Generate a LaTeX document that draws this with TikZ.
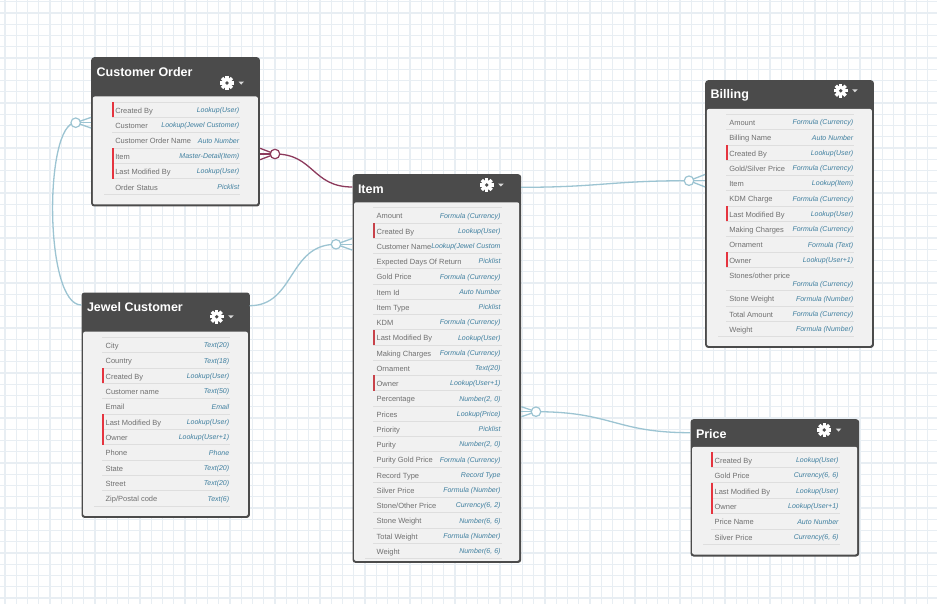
\documentclass[tikz,border=0pt]{standalone}
\usepackage{fontspec}
\setmainfont{Liberation Sans}
\usetikzlibrary{calc}
\definecolor{gridc}{HTML}{E8EEF3}
\definecolor{hdrc}{HTML}{4B4B4B}
\definecolor{innerc}{HTML}{F1F1F1}
\definecolor{rowline}{HTML}{DEDEDE}
\definecolor{namec}{HTML}{707070}
\definecolor{typec}{HTML}{3F7F9F}
\definecolor{bluec}{HTML}{9CC4D2}
\definecolor{maroonc}{HTML}{8C3A5C}
\definecolor{barc}{HTML}{E5343F}
\tikzset{
  outerbox/.style={fill=hdrc,rounded corners=3pt,inner sep=0pt,anchor=north west},
  titletext/.style={font=\fontsize{12.5}{13}\selectfont\bfseries,text=white,anchor=west,inner sep=0pt},
  fieldname/.style={font=\fontsize{7.5}{8}\selectfont,text=namec,anchor=base west,inner sep=0pt},
  fieldtype/.style={font=\fontsize{7}{8}\selectfont\itshape,text=typec,anchor=base east,inner sep=0pt},
  bluelink/.style={draw=bluec,line width=1.3pt},
  maroonlink/.style={draw=maroonc,line width=1.3pt},
  bluering/.style={circle,draw=bluec,fill=white,line width=1.2pt,minimum size=9.5pt,inner sep=0pt},
  maroonring/.style={circle,draw=maroonc,fill=white,line width=1.2pt,minimum size=9.5pt,inner sep=0pt},
}
\newcount\rowno
\newcommand\erbox[9]{% id,x,y,w,h,header height,title,gear dx,gear dy
  \node[outerbox,minimum width=#4pt,minimum height=#5pt] (#1) at (#2,#3) {};
  \fill[innerc,rounded corners=2pt] ({#2+1.8},{#3+#6}) rectangle ({#2+#4-1.8},{#3+#5-1.8});
  \node[titletext] (#1title) at ({#2+5.5},{#3+14.8}) {#7};
  \pgfmathsetmacro\gx{#2+#8}
  \pgfmathsetmacro\gy{#3+#9}
  \fill[white] (\gx,\gy) circle (5.2);
  \foreach \a in {0,45,...,315}
    \fill[white,shift={(\gx,\gy)},rotate=\a] (-1.7,-7) rectangle (1.7,0);
  \fill[hdrc] (\gx,\gy) circle (1.9);
  \fill[white!85!black] ({\gx+11.5},{\gy-1.4}) -- ({\gx+17},{\gy-1.4}) -- ({\gx+14.2},{\gy+1.6}) -- cycle;
  \edef\bx{#2}\edef\bw{#4}
}
\newcommand\rowsfrom[2]{% y of first line, row height
  \edef\ry{#1}\edef\rh{#2}
  \draw[rowline,line width=.7pt] ({\bx+21},\ry) -- ({\bx+\bw-19.5},\ry);
}
\newcommand\frow[3]{\frowgen{#1}{#2}{#3}{\rh}{3.5}{2.8}}
\newcommand\frowgen[6]{% name,type,flag,height,name base,type base
  \global\advance\rowno by 1
  \pgfmathsetmacro\rn{\ry+#4}
  \pgfmathsetmacro\rmid{\ry+(#4)/2}
  \draw[rowline,line width=.7pt] ({\bx+21},\rn) -- ({\bx+\bw-19.5},\rn);
  \ifnum#3=1 \fill[barc] ({\bx+20.8},\ry) rectangle ({\bx+23},\rn);\fi
  \node[fieldname] (fn\the\rowno) at ({\bx+24.1},{\rmid+#5}) {#1};
  \node[fieldtype] (ft\the\rowno) at ({\bx+\bw-20.3},{\rmid+#6}) {#2};
  \let\ry\rn
}
\newcommand\rowsend{\draw[rowline,line width=.7pt] ({\bx+13},\ry) -- ({\bx+21},\ry);}
\begin{document}
\begin{tikzpicture}[x=1pt,y=-1pt]
\useasboundingbox (0,0) rectangle (937,604);
\fill[white] (0,0) rectangle (937,604);
\foreach \k in {0,...,83} \draw[gridc,line width=1.2pt] ({5+11.25*\k},0) -- ({5+11.25*\k},604);
\foreach \k in {0,...,53} \draw[gridc,line width=1.2pt] (0,{1.7+11.25*\k}) -- (937,{1.7+11.25*\k});

% ---- Customer Order
\erbox{CO}{91}{57}{168.7}{149.3}{39.5}{Customer Order}{136}{26}
\rowsfrom{102}{15.37}
\frow{Created By}{Lookup(User)}{1}
\frow{Customer}{Lookup(Jewel Customer)}{0}
\frow{Customer Order Name}{Auto Number}{0}
\frow{Item}{Master-Detail(Item)}{1}
\frow{Last Modified By}{Lookup(User)}{1}
\frow{Order Status}{Picklist}{0}
\rowsend

% ---- Jewel Customer
\erbox{JC}{81.3}{292.3}{168.4}{225.4}{39.4}{Jewel Customer}{135.4}{24.4}
\rowsfrom{337.3}{15.33}
\frow{City}{Text(20)}{0}
\frow{Country}{Text(18)}{0}
\frow{Created By}{Lookup(User)}{1}
\frow{Customer name}{Text(50)}{0}
\frow{Email}{Email}{0}
\frow{Last Modified By}{Lookup(User)}{1}
\frow{Owner}{Lookup(User+1)}{1}
\frow{Phone}{Phone}{0}
\frow{State}{Text(20)}{0}
\frow{Street}{Text(20)}{0}
\frow{Zip/Postal code}{Text(6)}{0}
\rowsend

% ---- Item
\erbox{IT}{352.3}{174}{168.7}{388.7}{28.3}{Item}{134.4}{11}
\definecolor{barc}{HTML}{C8424A}
\rowsfrom{207.7}{15.25}
\frow{Amount}{Formula (Currency)}{0}
\frow{Created By}{Lookup(User)}{1}
\frow{Customer Name}{Lookup(Jewel Custom}{0}
\frow{Expected Days Of Return}{Picklist}{0}
\frow{Gold Price}{Formula (Currency)}{0}
\frow{Item Id}{Auto Number}{0}
\frow{Item Type}{Picklist}{0}
\frow{KDM}{Formula (Currency)}{0}
\frow{Last Modified By}{Lookup(User)}{1}
\frow{Making Charges}{Formula (Currency)}{0}
\frow{Ornament}{Text(20)}{0}
\frow{Owner}{Lookup(User+1)}{1}
\frow{Percentage}{Number(2, 0)}{0}
\frow{Prices}{Lookup(Price)}{0}
\frow{Priority}{Picklist}{0}
\frow{Purity}{Number(2, 0)}{0}
\frow{Purity Gold Price}{Formula (Currency)}{0}
\frow{Record Type}{Record Type}{0}
\frow{Silver Price}{Formula (Number)}{0}
\frow{Stone/Other Price}{Currency(6, 2)}{0}
\frow{Stone Weight}{Number(6, 6)}{0}
\frow{Total Weight}{Formula (Number)}{0}
\frow{Weight}{Number(6, 6)}{0}
\rowsend
\definecolor{barc}{HTML}{E5343F}

% ---- Billing
\erbox{BI}{705}{80}{168.7}{267.7}{29}{Billing}{135.7}{10.7}
\rowsfrom{114.3}{15.3}
\frow{Amount}{Formula (Currency)}{0}
\frow{Billing Name}{Auto Number}{0}
\frow{Created By}{Lookup(User)}{1}
\frow{Gold/Silver Price}{Formula (Currency)}{0}
\frow{Item}{Lookup(Item)}{0}
\frow{KDM Charge}{Formula (Currency)}{0}
\frow{Last Modified By}{Lookup(User)}{1}
\frow{Making Charges}{Formula (Currency)}{0}
\frow{Ornament}{Formula (Text)}{0}
\frow{Owner}{Lookup(User+1)}{1}
\frowgen{Stones/other price}{Formula (Currency)}{0}{23.4}{-0.5}{7.2}
\frow{Stone Weight}{Formula (Number)}{0}
\frow{Total Amount}{Formula (Currency)}{0}
\frow{Weight}{Formula (Number)}{0}
\rowsend

% ---- Price
\erbox{PR}{690.3}{419}{168.7}{137.3}{27.8}{Price}{134}{11}
\rowsfrom{452}{15.4}
\frow{Created By}{Lookup(User)}{1}
\frow{Gold Price}{Currency(6, 6)}{0}
\frow{Last Modified By}{Lookup(User)}{1}
\frow{Owner}{Lookup(User+1)}{1}
\frow{Price Name}{Auto Number}{0}
\frow{Silver Price}{Currency(6, 6)}{0}
\rowsend

% ---- connectors
\coordinate (r1p) at (75.7,122.7);
\coordinate (r2p) at (275,154);
\coordinate (r3p) at (336,244.3);
\coordinate (r4p) at (689,180.7);
\coordinate (r5p) at (536,411.7);
\coordinate (jcw) at (81.3,305);
\coordinate (jce) at (249.7,305.7);
\coordinate (itw) at (352.3,187);
\coordinate (ite) at (521,187.3);
\coordinate (prw) at (690.3,432.7);

\draw[bluelink] (r1p) .. controls (44,122.7) and (44,305) .. (jcw);
\draw[bluelink] (r1p) -- (r1p -| CO.west);
\draw[bluelink] (r1p) -- ($(r1p -| CO.west)+(0,-5.3)$);
\draw[bluelink] (r1p) -- ($(r1p -| CO.west)+(0,5.3)$);

\draw[maroonlink] (r2p) .. controls (314,154) and (312,187) .. (itw);
\draw[maroonlink] (r2p) -- (r2p -| CO.east);
\draw[maroonlink] (r2p) -- ($(r2p -| CO.east)+(0,-5.7)$);
\draw[maroonlink] (r2p) -- ($(r2p -| CO.east)+(0,5.7)$);

\draw[bluelink] (jce) .. controls (295,305.7) and (288,244.3) .. (r3p);
\draw[bluelink] (r3p) -- (r3p -| IT.west);
\draw[bluelink] (r3p) -- ($(r3p -| IT.west)+(0,-5.8)$);
\draw[bluelink] (r3p) -- ($(r3p -| IT.west)+(0,5.8)$);

\draw[bluelink] (ite) .. controls (600,187.3) and (610,180.7) .. (r4p);
\draw[bluelink] (r4p) -- (r4p -| BI.west);
\draw[bluelink] (r4p) -- ($(r4p -| BI.west)+(0,-6.2)$);
\draw[bluelink] (r4p) -- ($(r4p -| BI.west)+(0,6.2)$);

\draw[bluelink] (r5p) .. controls (612,411.7) and (615,432.7) .. (prw);
\draw[bluelink] (r5p) -- (r5p -| IT.east);
\draw[bluelink] (r5p) -- ($(r5p -| IT.east)+(0,-5)$);
\draw[bluelink] (r5p) -- ($(r5p -| IT.east)+(0,5)$);

\node[bluering] (r1) at (r1p) {};
\node[maroonring] (r2) at (r2p) {};
\node[bluering] (r3) at (r3p) {};
\node[bluering] (r4) at (r4p) {};
\node[bluering] (r5) at (r5p) {};
\end{tikzpicture}
\end{document}
